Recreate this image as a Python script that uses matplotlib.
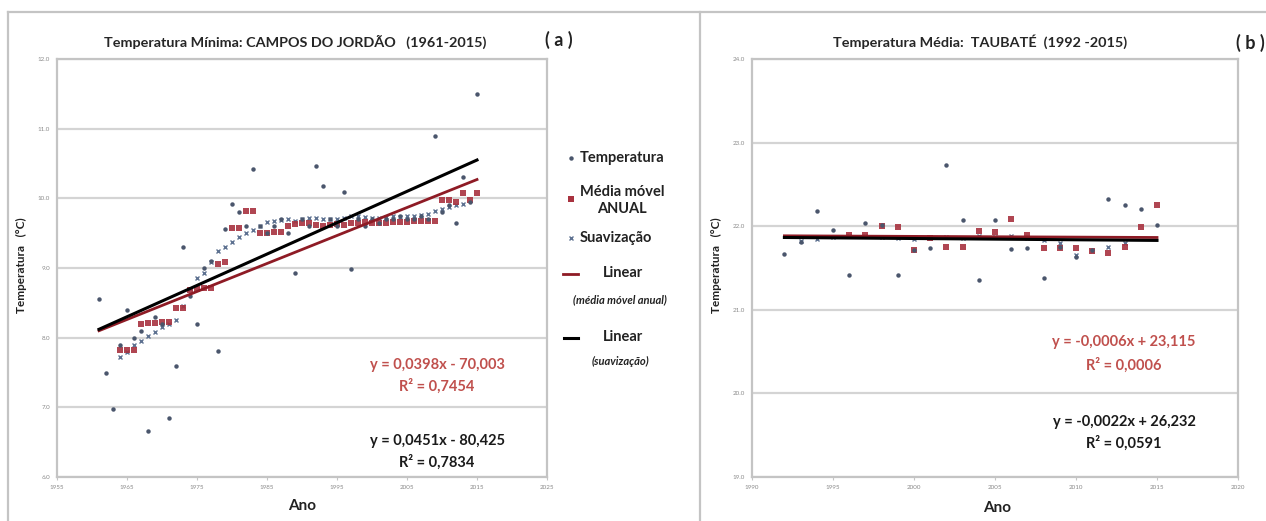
import matplotlib
matplotlib.use("Agg")
import matplotlib.pyplot as plt
from matplotlib.lines import Line2D

plt.rcParams["font.family"] = ["Lato", "DejaVu Sans"]

W, H = 1266, 521

# ---- panel (a): Campos do Jordão, temperatura mínima ----
years_a = list(range(1961, 2016))
temp_a = [
    8.55, 7.50, 6.98, 7.90, 8.40, 8.00, 8.10, 6.66, 8.30, 8.20,
    6.85, 7.60, 9.30, 8.60, 8.20, 9.00, 9.10, 7.81, 9.56, 9.92,
    9.80, 9.60, 10.42, 9.60, 9.50, 9.60, 9.70, 9.50, 8.93, 9.70,
    9.60, 10.46, 10.18, 9.70, 9.60, 10.09, 8.98, 9.70, 9.60, 9.70,
    9.65, 9.70, 9.70, 9.75, 9.70, 9.70, 9.75, 9.70, 10.90, 9.80,
    9.90, 9.65, 10.30, 9.95, 11.50,
]
years_mm_a = list(range(1964, 2016))
mm_a = [
    7.82, 7.82, 7.83,
    8.20, 8.21, 8.21, 8.22, 8.22,
    8.43, 8.43,
    8.68, 8.70, 8.71, 8.72,
    9.06, 9.08,
    9.58, 9.58,
    9.82, 9.82,
    9.50, 9.50, 9.51, 9.52,
    9.60, 9.63, 9.65, 9.64, 9.62, 9.61, 9.62, 9.63, 9.62, 9.64, 9.65,
    9.66, 9.65, 9.64, 9.65, 9.66, 9.66, 9.66, 9.67, 9.67, 9.68, 9.68,
    9.97, 9.97, 9.95, 10.08, 9.97, 10.07,
]
years_s_a = list(range(1964, 2014))
suav_a = [
    7.72, 7.80, 7.89, 7.95, 8.02, 8.08, 8.15, 8.20, 8.25, 8.45,
    8.70, 8.85, 8.93, 9.08, 9.24, 9.30, 9.37, 9.44, 9.50, 9.55,
    9.60, 9.66, 9.67, 9.69, 9.70, 9.68, 9.70, 9.72, 9.72, 9.71,
    9.70, 9.70, 9.72, 9.74, 9.74, 9.73, 9.72, 9.72, 9.73, 9.74,
    9.73, 9.74, 9.75, 9.76, 9.78, 9.82, 9.85, 9.87, 9.90, 9.92,
]
trend_x_a = [1961, 2015]
trend_mm_a = [8.10, 10.27]
trend_s_a = [8.12, 10.55]

# ---- panel (b): Taubaté, temperatura média ----
years_b = list(range(1992, 2016))
temp_b = [
    21.67, 21.81, 22.18, 21.96, 21.42, 22.04, 22.01, 21.42, 21.72, 21.74,
    22.73, 22.08, 21.36, 22.08, 21.73, 21.74, 21.38, 21.75, 21.63, 21.72,
    22.33, 22.25, 22.21, 22.02,
]
years_mm_b = list(range(1996, 2016))
mm_b = [
    21.90, 21.90, 22.00, 21.99, 21.72, 21.86, 21.75, 21.75, 21.94, 21.93,
    22.09, 21.90, 21.74, 21.74, 21.74, 21.70, 21.68, 21.75, 21.99, 22.25,
]
years_s_b = list(range(1993, 2014))
suav_b = [
    21.82, 21.85, 21.87, 21.88, 21.88, 21.87, 21.86, 21.85, 21.86, 21.87,
    21.86, 21.88, 21.87, 21.88, 21.86, 21.84, 21.80, 21.66, 21.70, 21.75,
    21.80,
]
trend_x_b = [1992, 2015]
trend_mm_b = [21.885, 21.865]
trend_s_b = [21.865, 21.830]

eq_a = [("y = 0,0398x - 70,003", "R² = 0,7454"), ("y = 0,0451x - 80,425", "R² = 0,7834")]
eq_b = [("y = -0,0006x + 23,115", "R² = 0,0006"), ("y = -0,0022x + 26,232", "R² = 0,0591")]

C_TEMP = "#4a566c"
C_MM = "#a8323f"
C_SUAV = "#5d7190"
C_RED_LINE = "#8e1b25"
C_EQ_RED = "#c0504d"
C_GRID = "#d4d4d4"
C_FRAME = "#c4c4c4"


def fx(x):
    return x / W


def fy(y):
    return 1 - y / H


def draw_panel(ax, yt, t, ym, m, ys, s, tx, tm, ts, xlim, xticks, ylim, yticks):
    ax.set_xlim(*xlim)
    ax.set_ylim(*ylim)
    ax.set_xticks(xticks)
    ax.set_yticks(yticks)
    ax.set_yticklabels([f"{v:.1f}" for v in yticks])
    ax.set_xticklabels([str(v) for v in xticks])
    ax.tick_params(labelsize=4.5, labelcolor="#8a8a8a", length=2.5, color=C_FRAME, pad=3)
    ax.tick_params(axis="y", length=0, pad=5)
    ax.grid(axis="y", color=C_GRID, lw=1.6)
    ax.set_axisbelow(True)
    for sp in ax.spines.values():
        sp.set_color(C_FRAME)
        sp.set_linewidth(1.6)

    ax.plot(ys, s, "x", color=C_SUAV, ms=3.2, mew=1.0, zorder=3)
    ax.plot(ym, m, "s", color=C_MM, ms=4.2, alpha=0.9, mew=0, zorder=4)
    ax.plot(yt, t, "o", color=C_TEMP, ms=3.2, mew=0, zorder=5)
    ax.plot(tx, tm, "-", color=C_RED_LINE, lw=2.0, zorder=6)
    ax.plot(tx, ts, "-", color="black", lw=2.2, zorder=7)


def main() -> None:
    fig = plt.figure(figsize=(W / 100, H / 100), dpi=100)

    # outer frames
    for x0, y0, x1, y1 in [(8, 12, W, 12), (8, 12, 8, H), (700, 12, 700, H)]:
        fig.add_artist(Line2D([fx(x0), fx(x1)], [fy(y0), fy(y1)], color=C_FRAME, lw=1.6))

    ax_a = fig.add_axes([fx(57), fy(477), fx(547) - fx(57), fy(59) - fy(477)])
    draw_panel(ax_a, years_a, temp_a, years_mm_a, mm_a, years_s_a, suav_a,
               trend_x_a, trend_mm_a, trend_s_a,
               (1955, 2025), list(range(1955, 2026, 10)), (6, 12), list(range(6, 13)))

    ax_b = fig.add_axes([fx(752), fy(477), fx(1238) - fx(752), fy(59) - fy(477)])
    draw_panel(ax_b, years_b, temp_b, years_mm_b, mm_b, years_s_b, suav_b,
               trend_x_b, trend_mm_b, trend_s_b,
               (1990, 2020), list(range(1990, 2021, 5)), (19, 24), list(range(19, 25)))

    # titles and labels
    tkw = dict(ha="center", va="center", fontsize=10.4, fontweight="bold", color="#262626")
    fig.text(fx(295), fy(42), "Temperatura Mínima: CAMPOS DO JORDÃO   (1961-2015)", **tkw)
    fig.text(fx(980), fy(42), "Temperatura Média:  TAUBATÉ  (1992 -2015)", **tkw)
    fig.text(fx(559), fy(40), "( a )", ha="center", va="center", fontsize=13,
             fontweight="bold", color="#222222")
    fig.text(fx(1250), fy(43), "( b )", ha="center", va="center", fontsize=13,
             fontweight="bold", color="#222222")

    for x in (21, 716):
        fig.text(fx(x), fy(265), "Temperatura   (°C)", rotation=90, ha="center",
                 va="center", fontsize=8.5, fontweight="bold", color="#222222")
    fig.text(fx(302), fy(506), "Ano", ha="center", va="center", fontsize=11,
             fontweight="bold", color="#222222")
    fig.text(fx(997), fy(508), "Ano", ha="center", va="center", fontsize=11,
             fontweight="bold", color="#222222")

    # equations
    for (x, ys, eqs) in [(437, (365, 386, 441, 462), eq_a), (1124, (342, 365, 422, 443), eq_b)]:
        (e1, r1), (e2, r2) = eqs
        fig.text(fx(x), fy(ys[0]), e1, ha="center", va="center", fontsize=10.5,
                 fontweight="bold", color=C_EQ_RED)
        fig.text(fx(x), fy(ys[1]), r1, ha="center", va="center", fontsize=10.5,
                 fontweight="bold", color=C_EQ_RED)
        fig.text(fx(x), fy(ys[2]), e2, ha="center", va="center", fontsize=10.5,
                 fontweight="bold", color="#1a1a1a")
        fig.text(fx(x), fy(ys[3]), r2, ha="center", va="center", fontsize=10.5,
                 fontweight="bold", color="#1a1a1a")

    # legend of panel (a)
    lg = fig.add_axes([0, 0, 1, 1], facecolor="none")
    lg.set_xlim(0, W)
    lg.set_ylim(H, 0)
    lg.axis("off")
    lg.plot([571], [158], "o", color=C_TEMP, ms=3.2, mew=0)
    lg.plot([571], [199], "s", color=C_MM, ms=4.2, mew=0)
    lg.plot([571], [238], "x", color=C_SUAV, ms=3.2, mew=1.0)
    lg.plot([563, 578], [274, 274], "-", color=C_RED_LINE, lw=2.0)
    lg.plot([564, 578], [338, 338], "-", color="black", lw=2.2)
    kw = dict(va="center", fontsize=10.5, fontweight="bold", color="#222222")
    lg.text(580, 158, "Temperatura", ha="left", **kw)
    lg.text(580, 192, "Média móvel", ha="left", **kw)
    lg.text(622, 209, "ANUAL", ha="center", **kw)
    lg.text(580, 238, "Suavização", ha="left", **kw)
    lg.text(623, 273, "Linear", ha="center", **kw)
    lg.text(620, 300, "(média móvel anual)", ha="center", va="center", fontsize=8,
            style="italic", fontweight="bold", color="#222222")
    lg.text(623, 337, "Linear", ha="center", **kw)
    lg.text(620, 361, "(suavização)", ha="center", va="center", fontsize=8,
            style="italic", fontweight="bold", color="#222222")

    fig.savefig("out.png", dpi=100)


if __name__ == "__main__":
    main()
